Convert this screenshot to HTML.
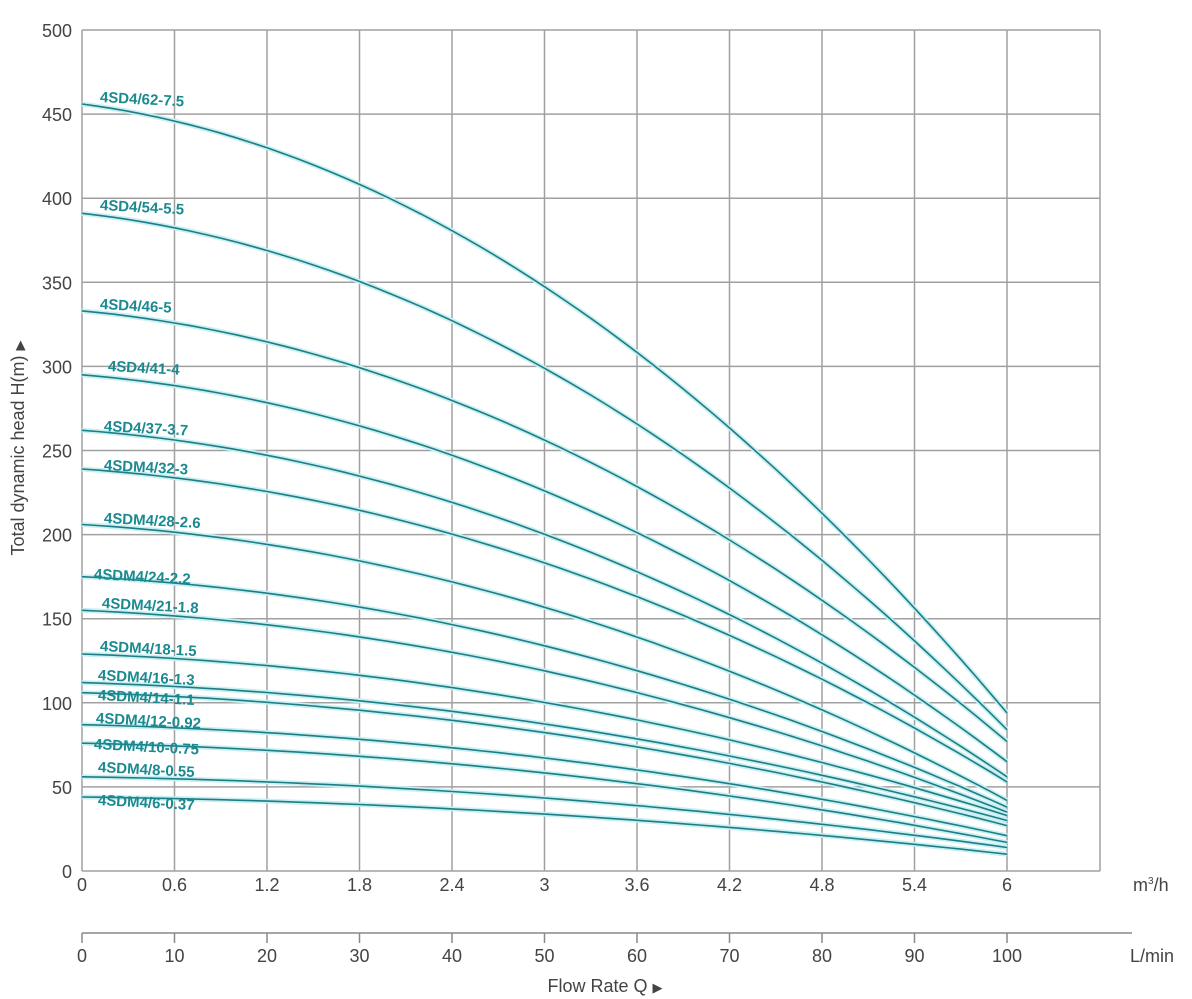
<!DOCTYPE html>
<html><head><meta charset="utf-8"><style>
body{margin:0;background:#fff}
svg{display:block;font-family:"Liberation Sans",sans-serif}
</style></head><body>
<svg id="s" width="1192" height="999" xmlns="http://www.w3.org/2000/svg"></svg>
<script>
const s=document.getElementById('s');
const X=q=>82+q/0.6*92.5, Y=h=>871-h*1.682;
let o='';
for(let i=0;i<=11;i++){const xx=i<11?82+i*92.5:1100;o+=`<line x1="${xx}" y1="30" x2="${xx}" y2="871" stroke="#a0a0a0" stroke-width="1.5"/>`;}
for(let i=0;i<=10;i++){const y=Y(i*50);o+=`<line x1="82" y1="${y}" x2="1100" y2="${y}" stroke="#a0a0a0" stroke-width="1.5"/>`;
o+=`<text x="72" y="${y+7}" text-anchor="end" font-size="18" fill="#444">${i*50}</text>`;}
const xl=['0','0.6','1.2','1.8','2.4','3','3.6','4.2','4.8','5.4','6'];
xl.forEach((t,i)=>{o+=`<text x="${82+i*92.5}" y="891" text-anchor="middle" font-size="18" fill="#444">${t}</text>`;
o+=`<line x1="${82+i*92.5}" y1="933" x2="${82+i*92.5}" y2="943" stroke="#888" stroke-width="1.5"/>`;
o+=`<text x="${82+i*92.5}" y="962" text-anchor="middle" font-size="18" fill="#444">${i*10}</text>`;});
o+=`<line x1="82" y1="933" x2="1132" y2="933" stroke="#888" stroke-width="1.5"/>`;
o+=`<text x="1133" y="891" font-size="18" fill="#444">m<tspan font-size="10" dy="-7">3</tspan><tspan dy="7">/h</tspan></text>`;
o+=`<text x="1130" y="962" font-size="18" fill="#444">L/min</text>`;
o+=`<text x="605" y="992" text-anchor="middle" font-size="18" fill="#444">Flow Rate Q <tspan font-size="13">▶</tspan></text>`;
o+=`<text transform="translate(24,448) rotate(-90)" text-anchor="middle" font-size="18" fill="#444">Total dynamic head H(m) <tspan font-size="13">▶</tspan></text>`;
const c=[[456,94,'4SD4/62-7.5',100,97],[391,84,'4SD4/54-5.5',100,205],[333,77,'4SD4/46-5',100,304],[295,65,'4SD4/41-4',108,366],
[262,56,'4SD4/37-3.7',104,426],[239,53,'4SDM4/32-3',104,465],[206,42,'4SDM4/28-2.6',104,518],[175,38,'4SDM4/24-2.2',94,574],
[155,35,'4SDM4/21-1.8',102,603],[129,33,'4SDM4/18-1.5',100,646],[112,30,'4SDM4/16-1.3',98,675],[106,27,'4SDM4/14-1.1',98,695],
[87,21,'4SDM4/12-0.92',96,718],[76,17,'4SDM4/10-0.75',94,744],[56,14,'4SDM4/8-0.55',98,767],[44,10,'4SDM4/6-0.37',98,800]];
c.forEach(([h0,h6,l,lx,ly])=>{let d='';for(let k=0;k<=60;k++){const t=k/60;const h=h0-(h0-h6)*(0.8*t*t+0.2*t);d+=(k?'L':'M')+X(6*t).toFixed(1)+','+Y(h).toFixed(1);}
o+=`<path d="${d}" fill="none" stroke="#c8f0f2" stroke-width="5"/><path d="${d}" fill="none" stroke="#1e7d84" stroke-width="1.6"/>`;
o+=`<text x="${lx}" y="${ly+5}" font-size="15" font-weight="bold" fill="#1a8a90" transform="rotate(3 ${lx} ${ly})">${l}</text>`;});
s.innerHTML=o;
</script>
</body></html>
